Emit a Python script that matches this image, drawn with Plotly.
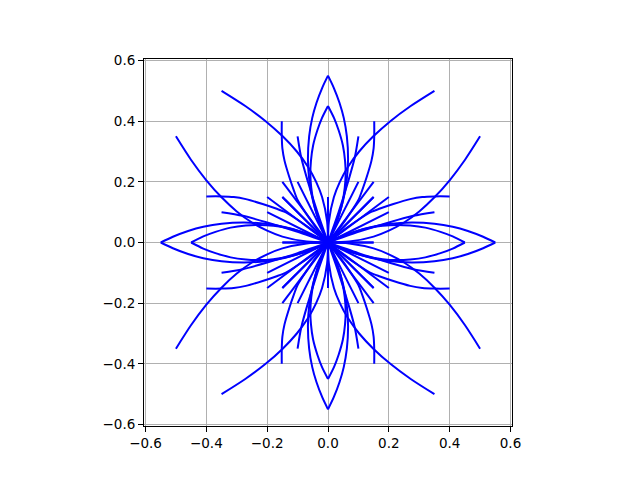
import plotly.graph_objects as go

petal_outer_x = [0, 0.018, 0.036, 0.05, 0.061, 0.066, 0.062, 0.052, 0.038, 0.019, 0]
petal_outer_y = [0, 0.04, 0.09, 0.14, 0.2, 0.275, 0.35, 0.41, 0.46, 0.51, 0.55]

petal_inner_x = [0, 0.018, 0.033, 0.047, 0.055, 0.058, 0.056, 0.049, 0.035, 0.02, 0]
petal_inner_y = [0, 0.04, 0.08, 0.13, 0.18, 0.225, 0.27, 0.32, 0.37, 0.41, 0.45]

long_x = [0, 0.003, 0.0195, 0.039, 0.066, 0.1025, 0.149, 0.205, 0.272, 0.35]
long_y = [0, 0.07, 0.15, 0.2, 0.25, 0.3, 0.35, 0.4, 0.45, 0.5]

hook_x = [0, 0.04, 0.075, 0.1, 0.112, 0.127, 0.143, 0.15, 0.152, 0.152]
hook_y = [0, 0.05, 0.1, 0.14, 0.171, 0.215, 0.27, 0.31, 0.35, 0.4]

mid_x = [0, 0.035, 0.066, 0.088, 0.1]
mid_y = [0, 0.1, 0.2, 0.28, 0.35]

spoke_a_x = [0, 0.15]
spoke_a_y = [0, 0.2]
spoke_b_x = [0, 0.1]
spoke_b_y = [0, 0.2]
spoke_c_x = [0, 0.15]
spoke_c_y = [0, 0.15]
axis_x = [0, 0]
axis_y = [0, 0.15]

base_curves = [
    (petal_outer_x, petal_outer_y),
    (petal_inner_x, petal_inner_y),
    (long_x, long_y),
    (hook_x, hook_y),
    (mid_x, mid_y),
    (spoke_a_x, spoke_a_y),
    (spoke_b_x, spoke_b_y),
    (spoke_c_x, spoke_c_y),
    (axis_x, axis_y),
]

# the eight symmetries of the square
symmetries = [
    (1, 1, False), (-1, 1, False), (1, -1, False), (-1, -1, False),
    (1, 1, True), (-1, 1, True), (1, -1, True), (-1, -1, True),
]

fig = go.Figure()
for bx, by in base_curves:
    for sx, sy, swap in symmetries:
        xs, ys = (by, bx) if swap else (bx, by)
        fig.add_trace(go.Scatter(
            x=[sx * v for v in xs], y=[sy * v for v in ys],
            mode="lines", line=dict(color="#0000ff", width=2, shape="spline", smoothing=0.8),
            hoverinfo="skip", showlegend=False,
        ))

ticks = [-0.6, -0.4, -0.2, 0.0, 0.2, 0.4, 0.6]
axis_common = dict(
    range=[-0.605, 0.605], tickvals=ticks, tickformat=".1f",
    showgrid=True, gridcolor="#b0b0b0", gridwidth=1.1, zeroline=False,
    showline=True, linecolor="black", linewidth=1.1, mirror=True,
    ticks="outside", ticklen=4.9, tickwidth=1.1, tickcolor="black",
    tickfont=dict(family="DejaVu Sans", size=13.5, color="black"),
)
fig.update_layout(
    width=640, height=480,
    margin=dict(l=136, r=136, t=51, b=62),
    paper_bgcolor="white", plot_bgcolor="white",
    xaxis=dict(**axis_common),
    yaxis=dict(**axis_common),
    showlegend=False,
)
fig.write_html("out.html")
